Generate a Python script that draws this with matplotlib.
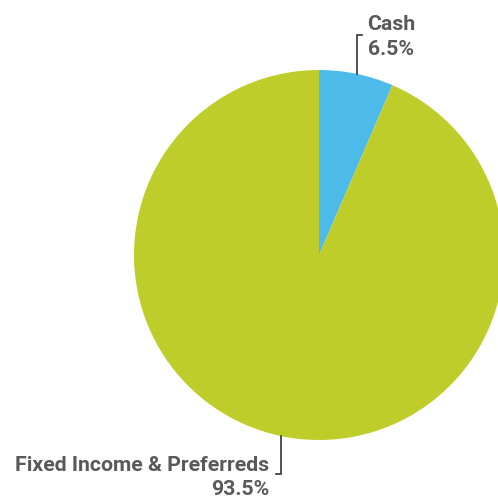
import numpy as np
import matplotlib
matplotlib.use("Agg")
import matplotlib.pyplot as plt

labels = ["Cash", "Fixed Income & Preferreds"]
values = [6.5, 93.5]
colors = ["#4DBBEA", "#BFCD2A"]

W = 498
fig = plt.figure(figsize=(4.98, 4.98), dpi=100)
ax = fig.add_axes([0, 0, 1, 1])

cx, cy, r = 319, W - 255, 185
wedges, _ = ax.pie(values, colors=colors, startangle=90, counterclock=False,
                   center=(cx, cy), radius=r, frame=True,
                   wedgeprops=dict(linewidth=0))
ax.set_xlim(0, W)
ax.set_ylim(0, W)
ax.set_aspect("equal")
ax.axis("off")

fam = ["Roboto", "DejaVu Sans"]
tc = "#58595B"
fs = 15.3

for i, w in enumerate(wedges):
    ang = np.deg2rad((w.theta1 + w.theta2) / 2)
    x = cx + r * np.cos(ang)
    y = cy + r * np.sin(ang)
    if i == 0:
        yend = W - 35
        ax.plot([x, x, x + 5], [y, yend, yend], color="#333333", lw=1.2,
                solid_joinstyle="miter")
        ax.text(x + 11, W - 30, labels[i], ha="left", va="baseline",
                fontsize=fs, fontweight="bold", color=tc, family=fam)
        ax.text(x + 11, W - 55, f"{values[i]}%", ha="left", va="baseline",
                fontsize=fs, fontweight="bold", color=tc, family=fam)
    else:
        yend = W - 474
        ax.plot([x, x, x - 5], [y, yend, yend], color="#333333", lw=1.2,
                solid_joinstyle="miter")
        ax.text(x - 12, W - 471, labels[i], ha="right", va="baseline",
                fontsize=fs, fontweight="bold", color=tc, family=fam)
        ax.text(x - 12, W - 495, f"{values[i]}%", ha="right", va="baseline",
                fontsize=fs, fontweight="bold", color=tc, family=fam)

fig.savefig("out.png", dpi=100)
